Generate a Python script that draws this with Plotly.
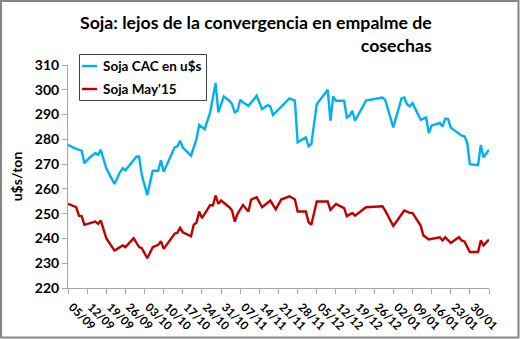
import plotly.graph_objects as go

# ---- data ----
cac_dates = ["2014-09-05","2014-09-08","2014-09-10","2014-09-11","2014-09-13","2014-09-15","2014-09-16","2014-09-17",
             "2014-09-19","2014-09-22","2014-09-24","2014-09-25","2014-09-26","2014-09-30","2014-10-01","2014-10-02",
             "2014-10-04","2014-10-06","2014-10-08","2014-10-09","2014-10-10","2014-10-14","2014-10-15","2014-10-16",
             "2014-10-17","2014-10-20","2014-10-22","2014-10-23","2014-10-25","2014-10-27","2014-10-29","2014-10-30",
             "2014-11-01","2014-11-03","2014-11-04","2014-11-05","2014-11-06","2014-11-07","2014-11-08","2014-11-10",
             "2014-11-12","2014-11-13","2014-11-15","2014-11-17","2014-11-18","2014-11-19","2014-11-25","2014-11-27",
             "2014-11-28","2014-12-01","2014-12-02","2014-12-03","2014-12-05","2014-12-09","2014-12-10","2014-12-11",
             "2014-12-12","2014-12-15","2014-12-16","2014-12-17","2014-12-18","2014-12-19","2014-12-23","2014-12-29",
             "2014-12-30","2015-01-02","2015-01-05","2015-01-06","2015-01-07","2015-01-08","2015-01-09","2015-01-12",
             "2015-01-14","2015-01-15","2015-01-16","2015-01-19","2015-01-20","2015-01-21","2015-01-22","2015-01-23",
             "2015-01-25","2015-01-27","2015-01-28","2015-01-29","2015-01-30","2015-02-02","2015-02-03","2015-02-04",
             "2015-02-06"]
cac_values = [277.8,276.1,275.4,270.4,272.7,274.5,273.8,275.8,
              268.3,262.0,266.7,268.3,267.5,273.0,273.1,265.6,
              257.5,267.3,267.3,271.6,266.9,276.7,277.2,279.4,
              276.7,273.4,280.1,285.8,284.1,290.9,302.7,290.9,
              297.3,295.6,294.2,290.9,291.5,296.0,294.9,293.5,
              296.2,297.6,292.2,293.8,293.3,289.8,296.5,295.6,
              278.8,280.8,277.2,278.1,294.2,300.0,287.5,297.3,
              295.6,295.6,288.8,289.5,291.5,287.5,295.6,296.9,
              296.0,284.8,296.5,296.9,294.2,293.3,294.6,287.9,
              288.8,282.5,285.5,286.6,285.2,288.4,288.2,284.8,
              283.1,281.5,281.2,278.8,270.0,269.6,277.7,272.7,
              275.8]

may_dates = ["2014-09-05","2014-09-08","2014-09-09","2014-09-10","2014-09-11","2014-09-15","2014-09-16","2014-09-17",
             "2014-09-19","2014-09-22","2014-09-25","2014-09-26","2014-09-29","2014-10-01","2014-10-02","2014-10-04",
             "2014-10-06","2014-10-08","2014-10-09","2014-10-10","2014-10-14","2014-10-15","2014-10-16","2014-10-17",
             "2014-10-20","2014-10-21","2014-10-22","2014-10-23","2014-10-24","2014-10-27","2014-10-28","2014-10-29",
             "2014-10-30","2014-10-31","2014-11-03","2014-11-04","2014-11-05","2014-11-06","2014-11-08","2014-11-10",
             "2014-11-11","2014-11-13","2014-11-15","2014-11-18","2014-11-20","2014-11-22","2014-11-25","2014-11-27",
             "2014-11-28","2014-12-01","2014-12-02","2014-12-03","2014-12-05","2014-12-09","2014-12-10","2014-12-12",
             "2014-12-15","2014-12-16","2014-12-18","2014-12-19","2014-12-23","2014-12-29","2014-12-30","2015-01-02",
             "2015-01-06","2015-01-08","2015-01-09","2015-01-12","2015-01-13","2015-01-15","2015-01-19","2015-01-20",
             "2015-01-21","2015-01-23","2015-01-26","2015-01-27","2015-01-28","2015-01-30","2015-02-02","2015-02-03",
             "2015-02-04","2015-02-06"]
may_values = [254.0,252.6,249.2,249.0,245.5,246.8,245.9,247.2,
              240.1,235.1,237.2,236.5,240.1,236.5,236.1,232.0,
              236.5,237.4,238.9,235.8,241.9,242.3,244.3,242.5,
              240.9,245.5,246.3,250.9,248.2,253.5,253.3,257.3,
              254.0,255.3,252.6,251.3,246.8,249.9,253.5,250.9,
              255.7,256.6,252.6,255.3,251.7,255.7,257.0,255.7,
              250.9,250.9,246.6,245.5,254.9,254.9,251.5,253.9,
              252.2,249.0,250.3,249.2,252.6,253.0,251.3,245.0,
              251.3,250.3,250.3,245.2,241.2,239.6,240.5,239.2,
              240.5,238.2,240.5,239.2,238.8,234.5,234.5,239.2,
              237.2,239.6]

tick_dates = ["2014-09-05","2014-09-12","2014-09-19","2014-09-26","2014-10-03","2014-10-10","2014-10-17","2014-10-24",
              "2014-10-31","2014-11-07","2014-11-14","2014-11-21","2014-11-28","2014-12-05","2014-12-12","2014-12-19",
              "2014-12-26","2015-01-02","2015-01-09","2015-01-16","2015-01-23","2015-01-30","2015-02-06"]
tick_labels = ["05/09","12/09","19/09","26/09","03/10","10/10","17/10","24/10",
               "31/10","07/11","14/11","21/11","28/11","05/12","12/12","19/12",
               "26/12","02/01","09/01","16/01","23/01","30/01",""]

series_names = ["Soja CAC en u$s", "Soja May'15"]
series_colors = ["#00B0F0", "#C00000"]

FONT = "Lato"
W, H = 520, 339
ML, MR, MT, MB = 68, 31, 65, 51

fig = go.Figure()
fig.add_trace(go.Scatter(x=cac_dates, y=cac_values, mode="lines", name=series_names[0],
                         line=dict(color=series_colors[0], width=2.4)))
fig.add_trace(go.Scatter(x=may_dates, y=may_values, mode="lines", name=series_names[1],
                         line=dict(color=series_colors[1], width=2.4)))

pw = W - ML - MR
ph = H - MT - MB
def px_x(p):
    return (p - ML) / pw
def px_y(p):
    return (H - MB - p) / ph

# manual legend (box, short line samples, bold labels)
shapes = [dict(type="rect", xref="paper", yref="paper",
               x0=px_x(1), x1=px_x(W - 1.5), y0=px_y(H - 1.5), y1=px_y(1),
               line=dict(color="#868686", width=2), fillcolor="rgba(0,0,0,0)", layer="above"),
          dict(type="rect", xref="paper", yref="paper",
               x0=px_x(79.5), x1=px_x(206.5), y0=px_y(100.5), y1=px_y(54.5),
               line=dict(color="#404040", width=1), fillcolor="white", layer="above")]
annotations = [dict(text="<b>Soja: lejos de la convergencia en empalme de<br>cosechas</b>",
                    xref="paper", yref="paper", x=px_x(255.5), y=px_y(10), xanchor="center", yanchor="top",
                    align="right", showarrow=False,
                    font=dict(family=FONT, size=17.7, color="#000000"))]
for i, (nm, col) in enumerate(zip(series_names, series_colors)):
    yy = 66 + i * 23
    shapes.append(dict(type="line", xref="paper", yref="paper",
                       x0=px_x(82), x1=px_x(97), y0=px_y(yy), y1=px_y(yy),
                       line=dict(color=col, width=2.4), layer="above"))
    annotations.append(dict(text="<b>%s</b>" % nm, xref="paper", yref="paper",
                            x=px_x(101), y=px_y(yy), xanchor="left", yanchor="middle",
                            showarrow=False, font=dict(family=FONT, size=13.5, color="#000000")))

fig.update_layout(
    width=W, height=H,
    margin=dict(l=ML, r=MR, t=MT, b=MB),
    paper_bgcolor="white", plot_bgcolor="white",
    font=dict(family=FONT, color="#000000"),
    showlegend=False,
    xaxis=dict(type="date", range=["2014-09-05", "2015-02-06"], automargin=False,
               tickvals=tick_dates, ticktext=["<b>%s</b>" % t for t in tick_labels],
               tickangle=45, ticks="outside", ticklen=5, tickcolor="#A6A6A6",
               ticklabelstandoff=2, ticklabelshift=4,
               showline=True, linecolor="#A6A6A6", linewidth=1, showgrid=False, zeroline=False,
               tickfont=dict(family=FONT, size=11.5, color="#000000")),
    yaxis=dict(range=[220, 310], dtick=10, tick0=220, ticks="outside", ticklen=5, tickcolor="#A6A6A6",
               automargin=False,
               showline=True, linecolor="#A6A6A6", linewidth=1, showgrid=False, zeroline=False,
               tickfont=dict(family=FONT, size=14, color="#000000"),
               tickprefix="<b>", ticksuffix="</b>",
               title=dict(text="<b>u$s/ton</b>", font=dict(family=FONT, size=14, color="#000000"), standoff=8)),
    annotations=annotations,
    shapes=shapes,
)

fig.write_html("out.html")
